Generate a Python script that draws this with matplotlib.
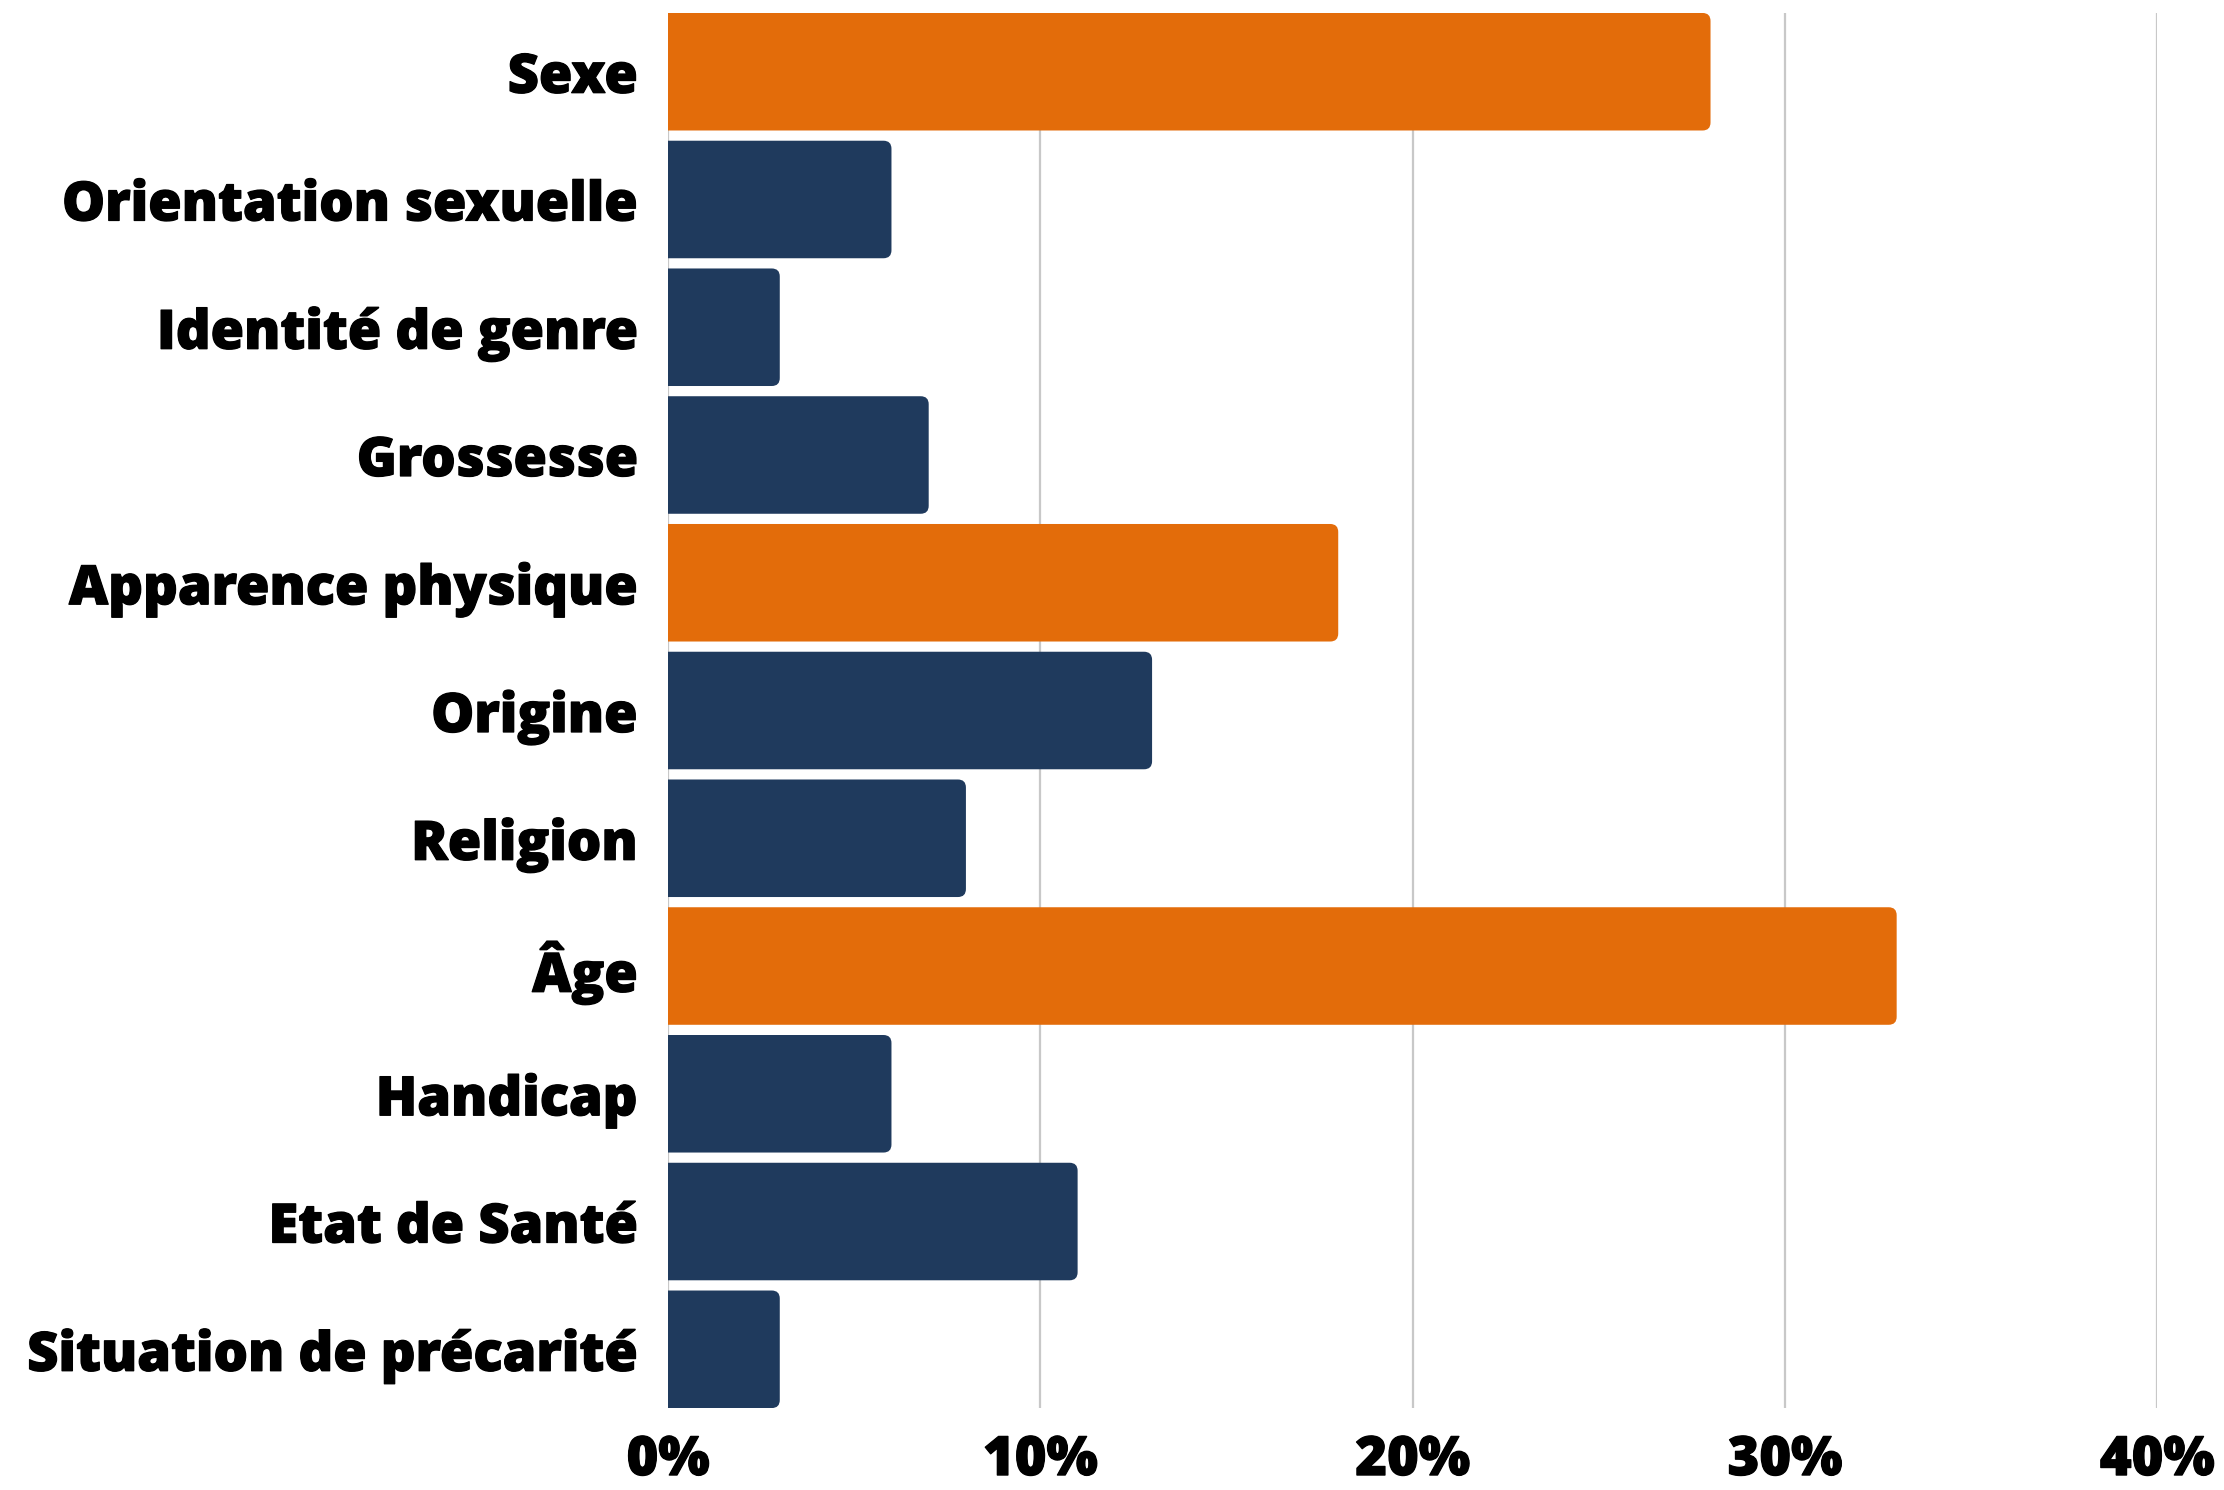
import matplotlib
matplotlib.use("Agg")
import matplotlib.pyplot as plt
from matplotlib.patches import FancyBboxPatch
import matplotlib.patheffects as pe

plt.rcParams['font.family'] = ['Open Sans', 'DejaVu Sans']

# Data
categories = ["Sexe", "Orientation sexuelle", "Identité de genre", "Grossesse",
              "Apparence physique", "Origine", "Religion", "Âge", "Handicap",
              "Etat de Santé", "Situation de précarité"]
values = [28, 6, 3, 7, 18, 13, 8, 33, 6, 11, 3]
highlight = [True, False, False, False, True, False, False, True, False, False, False]
xticks = [0, 10, 20, 30, 40]
xtick_labels = ["0%", "10%", "20%", "30%", "40%"]

ORANGE = '#E36C0A'
NAVY = '#1F3A5D'
BAR_H = 0.92

fig = plt.figure(figsize=(22.24, 14.9), dpi=100)
ax = fig.add_axes([0.3004, 0.055, 0.6696, 0.9363])

colors = [ORANGE if h else NAVY for h in highlight]
ypos = list(range(len(categories)))
bars = ax.barh(ypos, values, height=BAR_H, color=colors, zorder=2)

ax.set_xlim(0, 40)
ax.set_ylim(len(categories) - 1 + BAR_H / 2, -BAR_H / 2)

# rounded right corners: replace each bar by a rounded box (left side hidden past the axis)
fig.canvas.draw()
bb = ax.get_window_extent()
px_x = bb.width / 40.0
px_y = bb.height / (len(categories) - 1 + BAR_H)
r_px = 8
r_x = r_px / px_x
aspect = (r_px / px_y) / r_x
for b in bars:
    x0, y0 = b.get_x(), b.get_y()
    w, h = b.get_width(), b.get_height()
    b.set_visible(False)
    p = FancyBboxPatch((x0 - 1, y0), w + 1, h,
                       boxstyle=f"round,pad=0,rounding_size={r_x}",
                       mutation_aspect=aspect, facecolor=b.get_facecolor(),
                       edgecolor='none', zorder=2, clip_on=True)
    ax.add_patch(p)

thick = [pe.withStroke(linewidth=0.9, foreground='black')]
ax.set_yticks(ypos)
ax.set_yticklabels(categories, fontsize=39, fontweight='heavy', path_effects=thick)
ax.set_xticks(xticks)
ax.set_xticklabels(xtick_labels, fontsize=39, fontweight='heavy', path_effects=thick)
ax.tick_params(axis='y', length=0, pad=22)
ax.tick_params(axis='x', length=0, pad=18)

ax.grid(axis='x', color='#C8C8C8', linewidth=1.6, zorder=0)
ax.set_axisbelow(True)
for s in ax.spines.values():
    s.set_visible(False)

fig.savefig("out.png", dpi=100, facecolor='white')
